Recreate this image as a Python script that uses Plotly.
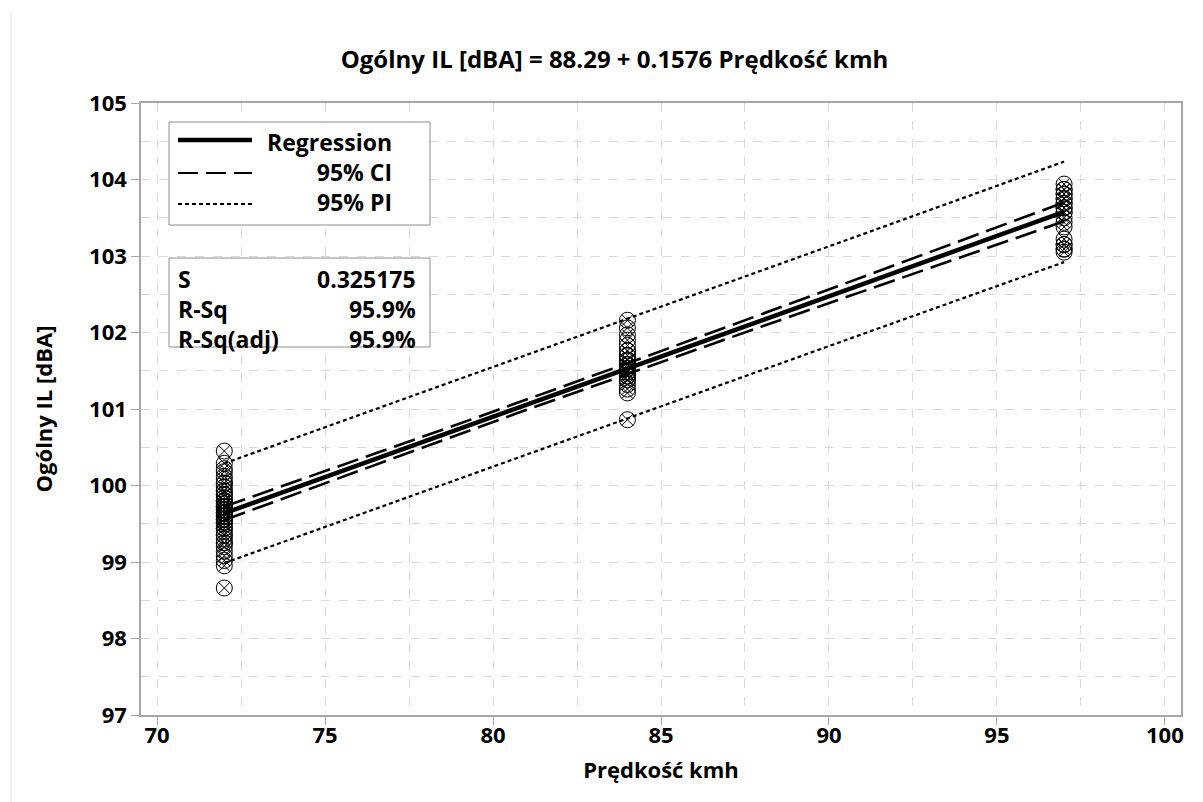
import numpy as np
import plotly.graph_objects as go

# Observations: speed levels and measured overall insertion loss
speed_72 = [72] * 48
il_72 = [100.45, 100.29, 100.22, 100.18, 100.12, 100.08, 100.03, 99.98, 99.93, 99.88,
         99.84, 99.80, 99.76, 99.72, 99.68, 99.64, 99.60, 99.56, 99.52, 99.48,
         99.44, 99.40, 99.35, 99.30, 99.25, 99.20, 99.14, 99.08, 99.02, 98.95,
         98.66, 99.80, 99.72, 99.64, 99.60, 99.56, 99.68, 99.76, 99.52, 99.88,
         99.44, 99.93, 99.35, 100.03, 99.25, 99.64, 99.72, 99.80]
speed_84 = [84] * 26
il_84 = [102.16, 102.06, 101.97, 101.90, 101.83, 101.76, 101.70, 101.64, 101.58, 101.53,
         101.48, 101.43, 101.38, 101.32, 101.26, 101.21, 100.86, 101.58, 101.64, 101.53,
         101.70, 101.48, 101.43, 101.76, 101.38, 101.58]
speed_97 = [97] * 22
il_97 = [103.94, 103.87, 103.81, 103.75, 103.69, 103.63, 103.57, 103.50, 103.44, 103.38,
         103.22, 103.15, 103.09, 103.05, 103.75, 103.69, 103.63, 103.81, 103.57, 103.15,
         103.09, 103.87]

# Fitted model summary
intercept = 88.29
slope = 0.1576
s_value = 0.325175
r_sq = "95.9%"
r_sq_adj = "95.9%"
t_crit = 1.985

x_ticks = [70, 75, 80, 85, 90, 95, 100]
y_ticks = [97, 98, 99, 100, 101, 102, 103, 104, 105]

speed = np.array(speed_72 + speed_84 + speed_97, dtype=float)
il = np.array(il_72 + il_84 + il_97, dtype=float)
n = len(speed)
x_mean = speed.mean()
sxx = ((speed - x_mean) ** 2).sum()

xs = np.linspace(speed.min(), speed.max(), 200)
fit = intercept + slope * xs
se_mean = s_value * np.sqrt(1 / n + (xs - x_mean) ** 2 / sxx)
se_pred = s_value * np.sqrt(1 + 1 / n + (xs - x_mean) ** 2 / sxx)

FONT = "Open Sans"
FS = 22
FS_BOX = 23
BLACK = "#000000"
GRID = "#d9d9d9"
AXIS = "#a6a6a6"

fig = go.Figure()

ci_dash = "22px,8px"
pi_dash = "4px,3px"

for sign in (1, -1):
    fig.add_trace(go.Scatter(x=xs, y=fit + sign * t_crit * se_pred, mode="lines",
                             line=dict(color=BLACK, width=2.2, dash=pi_dash),
                             showlegend=False, hoverinfo="skip"))
    fig.add_trace(go.Scatter(x=xs, y=fit + sign * t_crit * se_mean, mode="lines",
                             line=dict(color=BLACK, width=2.6, dash=ci_dash),
                             showlegend=False, hoverinfo="skip"))

fig.add_trace(go.Scatter(x=xs, y=fit, mode="lines",
                         line=dict(color=BLACK, width=4.5),
                         showlegend=False, hoverinfo="skip"))

fig.add_trace(go.Scatter(x=speed, y=il, mode="markers",
                         marker=dict(symbol="circle-x-open", size=16, color=BLACK,
                                     line=dict(width=1, color=BLACK)),
                         showlegend=False))

axis_common = dict(
    showline=True, linecolor=AXIS, linewidth=1.5, mirror=True,
    ticks="outside", ticklen=8, tickcolor=AXIS, tickwidth=1,
    showgrid=True, gridcolor=GRID, griddash="dash", gridwidth=1,
    zeroline=False,
    tickfont=dict(family=FONT, size=FS, color=BLACK),
)

fig.update_xaxes(
    range=[69.52, 100.48], tickvals=x_ticks,
    ticktext=[f"<b>{v}</b>" for v in x_ticks],
    ticklabelstandoff=-8,
    minor=dict(dtick=2.5, tick0=70, showgrid=True, gridcolor=GRID, griddash="dash", ticks=""),
    title=dict(text="<b>Prędkość kmh</b>", font=dict(family=FONT, size=FS, color=BLACK), standoff=14),
    **axis_common,
)
fig.update_yaxes(
    range=[97, 105], tickvals=y_ticks,
    ticktext=[f"<b>{v}</b>" for v in y_ticks],
    minor=dict(dtick=0.5, tick0=97, showgrid=True, gridcolor=GRID, griddash="dash", ticks=""),
    title=dict(text="<b>Ogólny IL [dBA]</b>", font=dict(family=FONT, size=FS, color=BLACK), standoff=30),
    **axis_common,
)

# Legend panel and model summary panel (paper coordinates of the plot area)
W, H, L, T = 1040.0, 612.0, 141.0, 103.0
def px(x):
    return (x - L) / W
def py(y):
    return (T + H - y) / H

shapes = []
annotations = []
box_style = dict(type="rect", xref="paper", yref="paper",
                 line=dict(color="#8c8c8c", width=1), fillcolor="white", layer="above")
shapes.append(dict(x0=px(169), x1=px(430), y0=py(225), y1=py(122), **box_style))
shapes.append(dict(x0=px(169), x1=px(430), y0=py(347), y1=py(258), **box_style))

legend_rows = [("Regression", 140, 4.5, "solid"), ("95% CI", 173, 2.2, "20px,8px"),
               ("95% PI", 204, 2, "4px,3px")]
for label, y, w, dash in legend_rows:
    shapes.append(dict(type="line", xref="paper", yref="paper",
                       x0=px(178), x1=px(252), y0=py(y), y1=py(y),
                       line=dict(color=BLACK, width=w, dash=dash), layer="above"))
annotations.append(dict(xref="paper", yref="paper", x=px(394), y=py(172),
                        xanchor="right", yanchor="middle", align="right", showarrow=False,
                        text="<br>".join(f"<b>{r[0]}</b>" for r in legend_rows),
                        font=dict(family=FONT, size=FS_BOX, color=BLACK)))

stat_names = ["S", "R-Sq", "R-Sq(adj)"]
stat_values = [f"{s_value:.6f}", r_sq, r_sq_adj]
annotations.append(dict(xref="paper", yref="paper", x=px(176), y=py(309),
                        xanchor="left", yanchor="middle", align="left", showarrow=False,
                        text="<br>".join(f"<b>{s}</b>" for s in stat_names),
                        font=dict(family=FONT, size=FS_BOX, color=BLACK)))
annotations.append(dict(xref="paper", yref="paper", x=px(418), y=py(309),
                        xanchor="right", yanchor="middle", align="right", showarrow=False,
                        text="<br>".join(f"<b>{v}</b>" for v in stat_values),
                        font=dict(family=FONT, size=FS_BOX, color=BLACK)))

# Faint frame edge on the left of the graph region
shapes.append(dict(type="line", xref="paper", yref="paper",
                   x0=px(11), x1=px(11), y0=py(12), y1=py(802),
                   line=dict(color="#e3e3e3", width=1), layer="below"))

fig.update_layout(
    width=1203, height=802,
    margin=dict(l=141, r=22, t=103, b=87),
    paper_bgcolor="white", plot_bgcolor="white",
    title=dict(text=f"<b>Ogólny IL [dBA] = {intercept:.2f} + {slope:.4f} Prędkość kmh</b>",
               xref="container", x=614.5 / 1203, xanchor="center",
               y=1 - 60 / 802, yanchor="middle",
               font=dict(family=FONT, size=24, color=BLACK)),
    shapes=shapes, annotations=annotations,
    showlegend=False,
)

fig.write_html("out.html")
